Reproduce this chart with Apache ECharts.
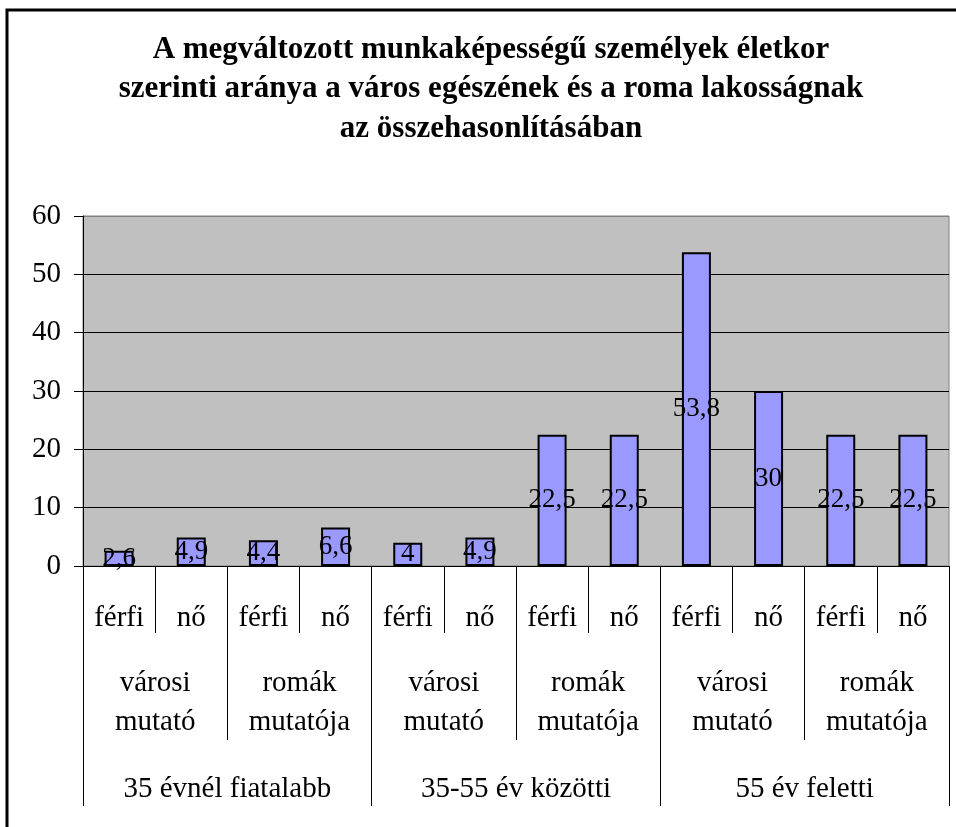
<!DOCTYPE html>
<html>
<head>
<meta charset="utf-8">
<script src="https://cdn.jsdelivr.net/npm/echarts@6/dist/echarts.min.js"></script>
<style>
  html, body { margin: 0; padding: 0; background: #fff; }
  #ch1 { width: 956px; height: 827px; }
</style>
</head>
<body>
<div id="ch1"></div>
<script>
var genders = ['férfi', 'nő', 'férfi', 'nő', 'férfi', 'nő', 'férfi', 'nő', 'férfi', 'nő', 'férfi', 'nő'];
var groups = ['városi\nmutató', 'romák\nmutatója', 'városi\nmutató', 'romák\nmutatója', 'városi\nmutató', 'romák\nmutatója'];
var ages = ['35 évnél fiatalabb', '35-55 év közötti', '55 év feletti'];
var values = [2.6, 4.9, 4.4, 6.6, 4, 4.9, 22.5, 22.5, 53.8, 30, 22.5, 22.5];
var yTicks = [0, 10, 20, 30, 40, 50, 60];

var serif = '"Liberation Serif", "Times New Roman", serif';

window.onload = function() {
  var ch1 = echarts.init(document.getElementById('ch1'));
  var op1 = {
    animation: false,
    title: {
      text: 'A megváltozott munkaképességű személyek életkor\nszerinti aránya a város egészének és a roma lakosságnak\naz összehasonlításában',
      left: 486,
      textAlign: 'center',
      top: 25,
      textStyle: {
        fontFamily: serif,
        fontWeight: 'bold',
        fontSize: 31,
        lineHeight: 39.5,
        color: '#000'
      }
    },
    graphic: [{
      type: 'rect',
      shape: { x: 7, y: 10, width: 960, height: 830 },
      style: { fill: 'none', stroke: '#000', lineWidth: 3 },
      silent: true
    }],
    grid: {
      left: 83,
      right: 7,
      top: 216,
      bottom: 261,
      show: true,
      backgroundColor: '#C0C0C0',
      borderColor: '#808080',
      borderWidth: 1
    },
    xAxis: [{
      type: 'category',
      position: 'bottom',
      data: genders,
      axisLine: { show: true, lineStyle: { color: '#000', width: 1 } },
      axisTick: { show: true, interval: 0, length: 67, lineStyle: { color: '#000' } },
      axisLabel: { interval: 0, margin: 38, fontFamily: serif, fontSize: 29, lineHeight: 28, color: '#000' }
    }, {
      type: 'category',
      position: 'bottom',
      offset: 0,
      data: groups,
      axisLine: { show: false },
      axisTick: { show: true, interval: 0, length: 174, lineStyle: { color: '#000' } },
      axisLabel: { interval: 0, margin: 98, fontFamily: serif, fontSize: 29, lineHeight: 39, color: '#000' }
    }, {
      type: 'category',
      position: 'bottom',
      offset: 0,
      data: ages,
      axisLine: { show: false },
      axisTick: { show: true, interval: 0, length: 240, lineStyle: { color: '#000' } },
      axisLabel: { interval: 0, margin: 209, fontFamily: serif, fontSize: 29, lineHeight: 28, color: '#000' }
    }],
    yAxis: {
      type: 'value',
      min: yTicks[0],
      max: yTicks[yTicks.length - 1],
      interval: 10,
      axisLine: { show: true, lineStyle: { color: '#000' } },
      axisTick: { show: true, length: 9, lineStyle: { color: '#000' } },
      axisLabel: { margin: 22, fontFamily: serif, fontSize: 29, color: '#000' },
      splitLine: {
        show: true,
        lineStyle: { color: ['#000', '#000', '#000', '#000', '#000', '#000', '#808080'], width: 1 }
      }
    },
    series: [{
      type: 'bar',
      xAxisIndex: 0,
      data: values,
      barWidth: 29,
      itemStyle: { color: '#9999FF', borderColor: '#000', borderWidth: 2 },
      label: {
        show: true,
        position: 'inside',
        fontFamily: serif,
        fontSize: 27,
        color: '#000',
        formatter: function(p) { return String(p.value).replace('.', ','); }
      }
    }]
  };
  ch1.setOption(op1);
};
</script>
</body>
</html>
